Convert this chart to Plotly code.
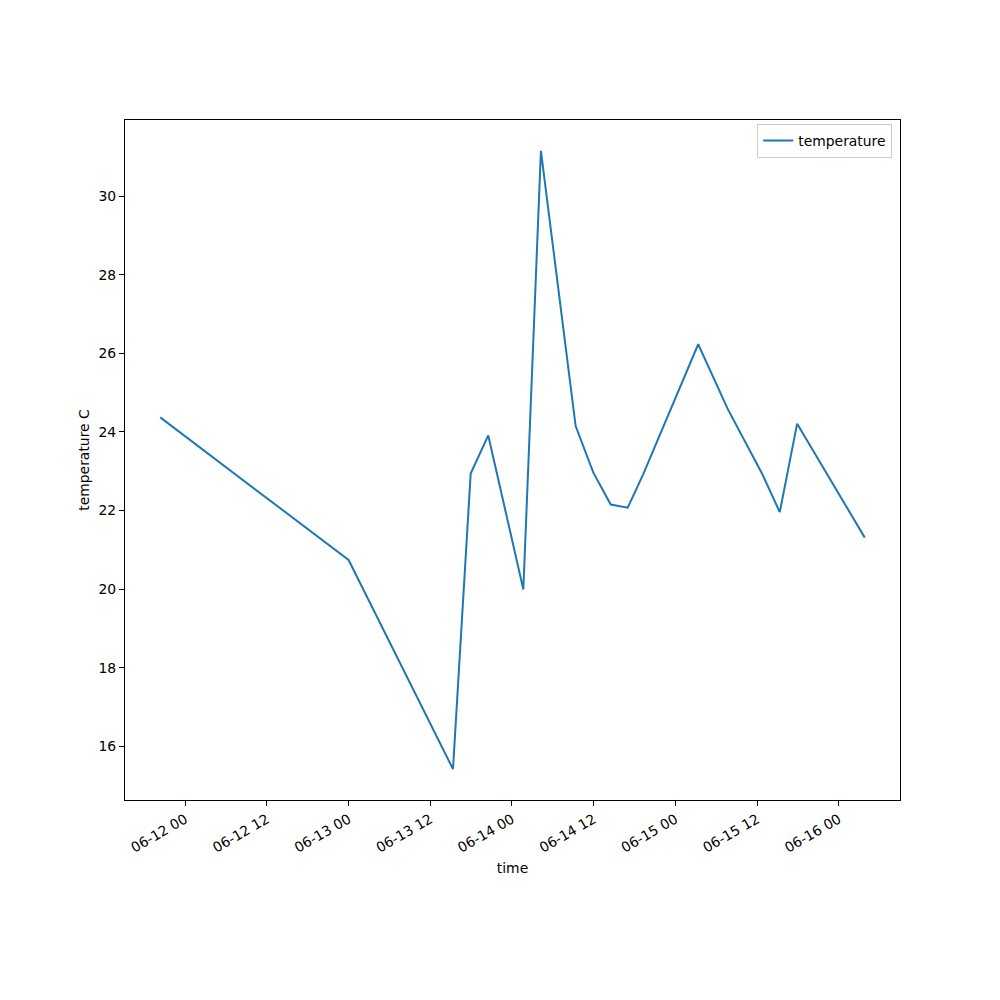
import pandas as pd
import plotly.graph_objects as go

times = [
    "2023-06-11 20:20", "2023-06-13 00:00", "2023-06-13 15:20", "2023-06-13 17:56",
    "2023-06-13 20:31", "2023-06-14 01:40", "2023-06-14 04:15", "2023-06-14 09:21",
    "2023-06-14 11:56", "2023-06-14 14:30", "2023-06-14 17:00", "2023-06-14 19:16",
    "2023-06-15 03:21", "2023-06-15 07:42", "2023-06-15 12:42", "2023-06-15 15:20",
    "2023-06-15 17:53", "2023-06-16 03:49",
]
temperature = [
    24.37, 20.74, 15.42, 22.94, 23.91, 19.99, 31.15, 24.15,
    22.97, 22.15, 22.07, 22.92, 26.23, 24.58, 22.95, 21.96,
    24.21, 21.31,
]
tick_dates = [
    "2023-06-12 00:00", "2023-06-12 12:00", "2023-06-13 00:00", "2023-06-13 12:00",
    "2023-06-14 00:00", "2023-06-14 12:00", "2023-06-15 00:00", "2023-06-15 12:00",
    "2023-06-16 00:00",
]
tick_labels = [
    "06-12 00", "06-12 12", "06-13 00", "06-13 12", "06-14 00",
    "06-14 12", "06-15 00", "06-15 12", "06-16 00",
]
y_ticks = [16, 18, 20, 22, 24, 26, 28, 30]

t = pd.to_datetime(times)
span = t.max() - t.min()
xr = [t.min() - span * 0.05, t.max() + span * 0.05]
ymin, ymax = min(temperature), max(temperature)
ys = ymax - ymin
yr = [ymin - ys * 0.05, ymax + ys * 0.05]

font = dict(family="DejaVu Sans", size=13.9, color="black")

fig = go.Figure()
fig.add_trace(go.Scatter(
    x=t, y=temperature, mode="lines", name="temperature",
    line=dict(color="#1f77b4", width=2),
))

fig.update_layout(
    width=1000, height=1000,
    margin=dict(l=117, r=108, t=112, b=208),
    paper_bgcolor="white", plot_bgcolor="white",
    font=font,
    showlegend=True,
    legend=dict(
        x=0.99, y=0.994, xanchor="right", yanchor="top",
        bordercolor="#cccccc", borderwidth=1, bgcolor="rgba(255,255,255,0.8)",
        font=font, tracegroupgap=0,
    ),
)
fig.update_xaxes(
    range=xr, tickmode="array", tickvals=pd.to_datetime(tick_dates), ticktext=tick_labels,
    tickangle=-30, ticks="outside", ticklen=5, tickwidth=1, tickcolor="black",
    showline=True, linecolor="black", linewidth=1, mirror=True,
    showgrid=False, zeroline=False,
    title=dict(text="time", font=font, standoff=8),
)
fig.update_yaxes(
    range=yr, tickmode="array", tickvals=y_ticks,
    ticks="outside", ticklen=5, tickwidth=1, tickcolor="black",
    showline=True, linecolor="black", linewidth=1, mirror=True,
    showgrid=False, zeroline=False,
    title=dict(text="temperature C", font=font, standoff=5),
)

fig.write_html("out.html")
